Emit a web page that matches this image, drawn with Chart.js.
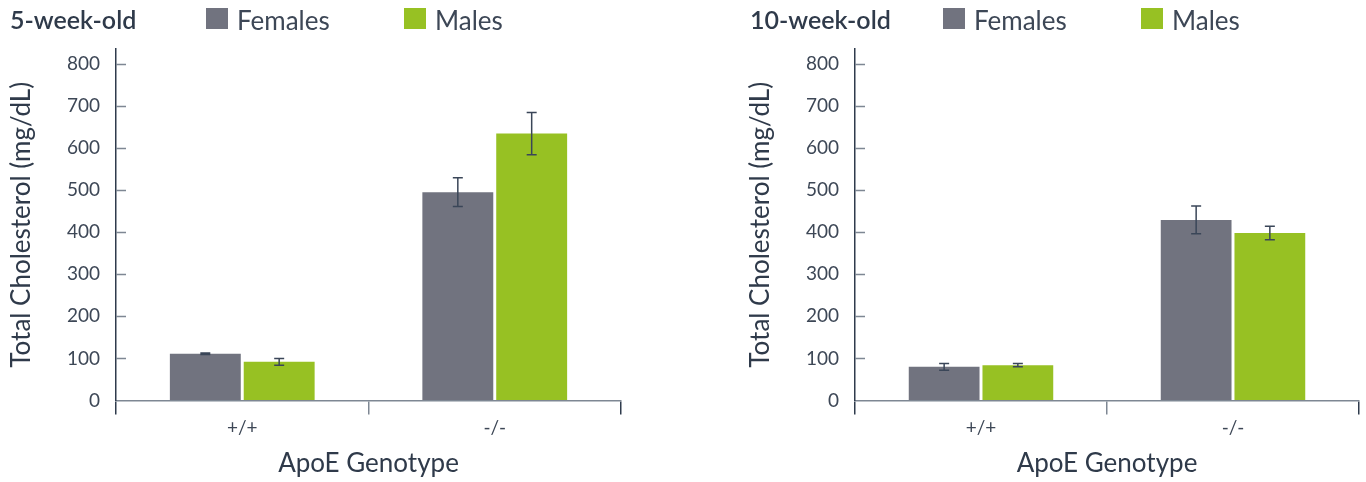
<!DOCTYPE html>
<html>
<head>
<meta charset="utf-8">
<script src="https://cdn.jsdelivr.net/npm/chart.js@4.4.1/dist/chart.umd.min.js"></script>
<style>
  html, body { margin: 0; padding: 0; background: #ffffff; }
  body { width: 1366px; height: 482px; position: relative; overflow: hidden; font-family: Lato, "Open Sans", sans-serif; }
  .panel { position: absolute; top: 0; height: 482px; }
  .panel canvas { position: absolute; left: 0; top: 0; }
  .head { position: absolute; top: 0; left: 0; height: 40px; width: 100%; color: #2f3a4a; }
  .head .ttl { position: absolute; top: 4px; font-size: 25px; font-weight: 600; letter-spacing: 0; }
  .head .item { position: absolute; top: 4px; font-size: 26px; color: #3d4756; white-space: nowrap; }
  .head .sw { position: absolute; top: 8px; width: 22px; height: 21px; }
</style>
</head>
<body>
<div class="panel" id="p1" style="left:0;width:630px;">
  <canvas id="c1" width="630" height="482"></canvas>
  <div class="head" id="h1"></div>
</div>
<div class="panel" id="p2" style="left:739px;width:627px;">
  <canvas id="c2" width="627" height="482"></canvas>
  <div class="head" id="h2"></div>
</div>
<script>
// Genotype categories and series
const genotypes = ['+/+', '-/-'];
const seriesNames = ['Females', 'Males'];
const seriesColors = ['#71737f', '#97c123'];

// 5-week-old mice: mean total cholesterol (mg/dL) and error
const females5 = [111, 495];
const females5Err = [2, 34];
const males5 = [92, 634];
const males5Err = [8, 50];

// 10-week-old mice
const females10 = [80, 429];
const females10Err = [8, 33];
const males10 = [84, 398];
const males10Err = [4, 16];

const yTicks = [0, 100, 200, 300, 400, 500, 600, 700, 800];

const AXIS_DARK = '#2f3b4c';
const AXIS_GREY = '#7e8793';
const ERR_COLOR = '#3a4658';

// Draws error whiskers for each bar using the chart's own y scale
const errorBars = {
  id: 'errorBars',
  afterDatasetsDraw(chart) {
    const ctx = chart.ctx;
    const y = chart.scales.y;
    chart.data.datasets.forEach((ds, di) => {
      const meta = chart.getDatasetMeta(di);
      meta.data.forEach((bar, i) => {
        const v = ds.data[i], e = ds.errors[i];
        const yt = y.getPixelForValue(v + e);
        const yb = y.getPixelForValue(v - e);
        ctx.save();
        ctx.strokeStyle = ERR_COLOR;
        ctx.lineWidth = 1.5;
        ctx.beginPath();
        ctx.moveTo(bar.x, yt); ctx.lineTo(bar.x, yb);
        ctx.moveTo(bar.x - 5, yt); ctx.lineTo(bar.x + 5, yt);
        ctx.moveTo(bar.x - 5, yb); ctx.lineTo(bar.x + 5, yb);
        ctx.stroke();
        ctx.restore();
      });
    });
  }
};

// Short tick marks on the inner side of the value axis
const innerTicks = {
  id: 'innerTicks',
  afterDraw(chart) {
    const ctx = chart.ctx;
    const y = chart.scales.y;
    const left = chart.chartArea.left;
    ctx.save();
    ctx.strokeStyle = AXIS_GREY;
    ctx.lineWidth = 1.5;
    ctx.beginPath();
    y.ticks.forEach(t => {
      if (t.value === 0) return;
      const py = Math.round(y.getPixelForValue(t.value)) + 0.5;
      ctx.moveTo(left, py); ctx.lineTo(left + 10, py);
    });
    ctx.stroke();
    ctx.restore();
  }
};

function buildHeader(el, title, offsets) {
  const t = document.createElement('div');
  t.className = 'ttl';
  t.style.left = offsets.title + 'px';
  t.textContent = title;
  el.appendChild(t);
  seriesNames.forEach((name, i) => {
    const sw = document.createElement('div');
    sw.className = 'sw';
    sw.style.left = offsets.items[i] + 'px';
    sw.style.background = seriesColors[i];
    el.appendChild(sw);
    const tx = document.createElement('div');
    tx.className = 'item';
    tx.style.left = (offsets.items[i] + 31) + 'px';
    tx.textContent = name;
    el.appendChild(tx);
  });
}

function makeChart(canvasId, fem, femErr, mal, malErr, padRight) {
  return new Chart(document.getElementById(canvasId), {
    type: 'bar',
    data: {
      labels: genotypes,
      datasets: [
        { label: seriesNames[0], data: fem, errors: femErr, backgroundColor: seriesColors[0] },
        { label: seriesNames[1], data: mal, errors: malErr, backgroundColor: seriesColors[1] }
      ]
    },
    options: {
      responsive: false,
      animation: false,
      layout: { padding: { top: 49, right: padRight, left: 0, bottom: 0 } },
      datasets: { bar: { categoryPercentage: 0.585, barPercentage: 0.96 } },
      plugins: { legend: { display: false }, tooltip: { enabled: false } },
      scales: {
        x: {
          grid: {
            offset: true,
            drawOnChartArea: false,
            drawTicks: true,
            tickLength: 14,
            lineWidth: 1.5,
            color: ctx => ctx.index === 1 ? AXIS_GREY : AXIS_DARK
          },
          border: { color: AXIS_GREY, width: 1.5 },
          ticks: { color: '#3d4756', font: { family: 'Lato', size: 19 }, padding: 2 },
          title: {
            display: true, text: 'ApoE Genotype', color: '#2f3a4a',
            font: { family: 'Lato', size: 26 }, padding: { top: 0, bottom: 3 }
          },
          afterFit(scale) { scale.height = 81.5; }
        },
        y: {
          min: 0,
          max: 835,
          afterBuildTicks(scale) { scale.ticks = yTicks.map(v => ({ value: v })); },
          grid: { display: true, drawOnChartArea: false, drawTicks: false },
          border: { color: AXIS_DARK, width: 1.5 },
          ticks: { color: '#3d4756', font: { family: 'Lato', size: 19 }, padding: 16 },
          title: {
            display: true, text: 'Total Cholesterol (mg/dL)', color: '#2f3a4a',
            font: { family: 'Lato', size: 26 }, padding: { top: 6, bottom: 0 }
          },
          afterFit(scale) { scale.width = 116; }
        }
      }
    },
    plugins: [errorBars, innerTicks]
  });
}

buildHeader(document.getElementById('h1'), '5-week-old', { title: 10, items: [206, 404] });
buildHeader(document.getElementById('h2'), '10-week-old', { title: 11, items: [204, 402] });

makeChart('c1', females5, females5Err, males5, males5Err, 9);
makeChart('c2', females10, females10Err, males10, males10Err, 7);
</script>
</body>
</html>
